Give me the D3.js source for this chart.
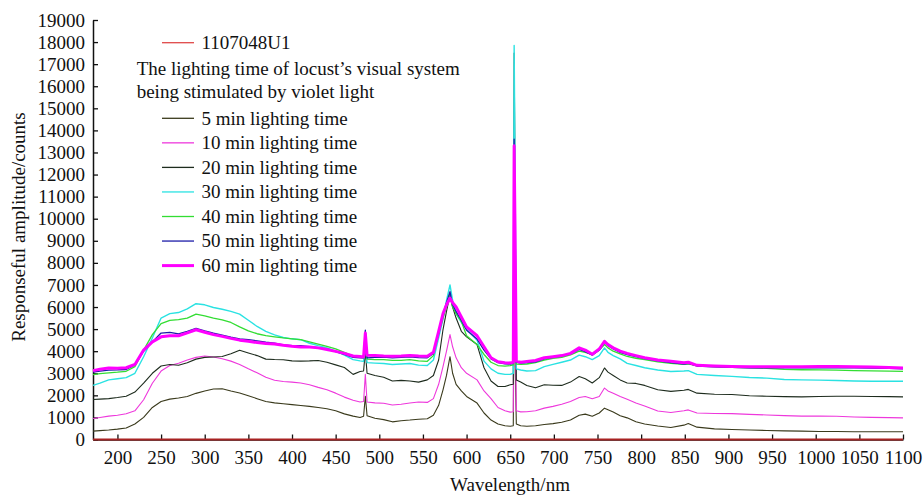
<!DOCTYPE html>
<html>
<head>
<meta charset="utf-8">
<script src="https://cdn.jsdelivr.net/npm/d3@7"></script>
<style>
  body { margin: 0; background: #fff; }
  svg { display: block; }
  text { font-family: "Liberation Serif", "Times New Roman", serif; fill: #111; }
</style>
</head>
<body>
<div id="chart"></div>
<script>
// wavelength grid (nm), shared by all spectra
var wavelength = [
  172,180,190,200,210,220,230,240,250,260,270,280,290,300,310,320,330,340,350,360,370,380,390,400,410,420,430,440,450,460,470,
  478,482,484,486,
  495,505,515,525,535,545,555,
  562,568,573,577,581,584,588,594,600,
  612,620,628,636,644,650,
  653.5,654.5,655.5,657,
  662,669,
  679,689,699,709,719,729,
  736,744,752,758,762,768,776,784,794,804,
  819,834,849,854,864,884,
  904,924,944,964,984,1004,1024,1044,1064,1084,1100
];

var min5 = [
  380,400,430,470,520,700,1000,1450,1720,1830,1880,1950,2090,2200,2290,2300,2200,2110,1980,1850,1720,1660,1620,1580,1540,1500,1450,1390,1300,1160,1060,
  1000,1050,1960,1080,
  960,900,800,850,880,920,940,
  1100,1550,2250,2900,3750,3000,2500,2200,1950,
  1650,1200,880,700,620,600,
  620,6800,4000,700,
  620,600,
  620,680,720,780,880,1100,
  1150,1050,1200,1420,1350,1250,1080,980,800,700,
  610,540,650,720,560,480,
  450,430,410,390,380,360,360,350,350,350,350
];
var min10 = [
  950,1000,1060,1100,1170,1300,1800,2550,3100,3350,3450,3600,3720,3780,3740,3660,3550,3400,3200,3020,2820,2680,2630,2600,2560,2480,2360,2250,2100,1920,1780,
  1700,1720,2950,1700,
  1660,1640,1560,1600,1650,1700,1680,
  1850,2500,3300,4000,4750,4200,3700,3250,3000,
  2700,2200,1850,1450,1300,1240,
  1260,11000,7000,1300,
  1250,1260,
  1300,1420,1500,1600,1720,1900,
  1950,1850,1950,2330,2200,2100,1950,1820,1650,1520,
  1290,1220,1300,1340,1200,1180,
  1170,1140,1110,1080,1060,1060,1050,1020,1000,990,980
];
var min20 = [
  1810,1830,1850,1900,1960,2150,2550,3000,3330,3400,3360,3480,3640,3720,3740,3760,3880,4040,3920,3800,3640,3620,3610,3560,3550,3560,3580,3500,3380,3260,2950,
  3080,3100,4000,3000,
  2900,2820,2650,2680,2650,2600,2700,
  2900,3600,4980,5800,6550,6000,5500,4900,4650,
  4300,3250,2650,2400,2400,2480,
  2500,17500,12000,2700,
  2600,2450,
  2340,2480,2460,2450,2600,2850,
  2750,2560,2800,3240,3050,2900,2700,2560,2540,2450,
  2250,2180,2230,2270,2100,2050,
  2040,1980,1960,1940,1930,1950,1960,1960,1950,1940,1930
];
var min30 = [
  2450,2550,2700,2750,2800,3000,3750,4600,5500,5700,5750,5920,6150,6100,5980,5900,5800,5680,5400,5120,4900,4740,4620,4560,4520,4360,4250,4150,4000,3820,3620,
  3560,3540,4300,3480,
  3460,3440,3400,3420,3440,3370,3350,
  3600,4600,5450,6300,7000,6300,5700,5300,5000,
  4500,3550,3200,3000,2950,2950,
  3000,17850,12500,3200,
  3150,3100,
  3120,3300,3400,3500,3600,3820,
  3750,3620,3800,4150,3950,3800,3650,3450,3350,3250,
  3150,3080,3100,3120,2950,2900,
  2860,2810,2780,2720,2700,2690,2670,2650,2640,2640,2640
];
var min40 = [
  2940,2980,3020,3050,3090,3300,4050,4750,5250,5400,5430,5500,5680,5600,5500,5420,5300,5100,4920,4790,4700,4650,4600,4560,4520,4420,4320,4220,4100,3950,3780,
  3720,3700,4400,3640,
  3620,3620,3580,3580,3620,3560,3540,
  3800,4800,5500,6000,6500,6000,5700,5350,4700,
  4300,3850,3500,3350,3320,3350,
  3380,12500,8000,3420,
  3400,3420,
  3480,3600,3680,3720,3830,4000,
  3950,3850,4050,4300,4150,4000,3880,3760,3680,3620,
  3520,3450,3400,3420,3330,3300,
  3270,3250,3220,3180,3160,3150,3140,3120,3110,3100,3090
];
var min50 = [
  3050,3100,3140,3150,3170,3380,4000,4420,4820,4850,4780,4900,5030,4920,4820,4730,4640,4560,4520,4470,4410,4360,4280,4250,4250,4200,4160,4100,3980,3850,3720,
  3700,3700,4950,3700,
  3720,3730,3700,3720,3740,3710,3700,
  3900,4800,5650,6200,6700,6100,5800,5400,4950,
  4550,4050,3650,3480,3430,3420,
  3450,13600,9000,3500,
  3460,3480,
  3520,3650,3720,3780,3880,4080,
  3980,3820,4050,4400,4250,4100,3950,3840,3750,3660,
  3560,3480,3420,3450,3330,3290,
  3270,3250,3250,3240,3250,3260,3250,3240,3230,3220,3200
];
var min60 = [
  3120,3180,3240,3230,3250,3400,4050,4420,4650,4700,4700,4830,4970,4860,4750,4670,4580,4500,4450,4390,4350,4330,4270,4220,4190,4190,4150,4080,3990,3900,3780,
  3760,3740,4820,3820,
  3800,3780,3770,3780,3800,3780,3770,
  3950,4900,5700,6100,6400,6200,6000,5550,5100,
  4700,4200,3700,3520,3480,3470,
  3500,13300,9500,3550,
  3500,3530,
  3580,3700,3750,3800,3900,4150,
  4050,3860,4100,4450,4300,4150,4000,3900,3800,3700,
  3600,3540,3480,3500,3360,3330,
  3310,3300,3290,3290,3300,3310,3310,3300,3280,3260,3240
];

// reference trace 1107048U1 (flat at zero)
var refWavelength = [172, 1100];
var ref1107048U1 = [0, 0];

var xTicks = [200,250,300,350,400,450,500,550,600,650,700,750,800,850,900,950,1000,1050,1100];
var yTicks = [0,1000,2000,3000,4000,5000,6000,7000,8000,9000,10000,11000,12000,13000,14000,15000,16000,17000,18000,19000];

var svgWidth = 924;
var svgHeight = 495;

var plot = { left: 93, right: 903, top: 20, bottom: 439.5 };

var svg = d3.select("#chart")
    .append("svg")
    .attr("width", svgWidth)
    .attr("height", svgHeight);

var x = d3.scaleLinear().domain([172, 1100]).range([plot.left, plot.right]);
var y = d3.scaleLinear().domain([0, 19000]).range([plot.bottom, plot.top]);

var series = [
    { name: "5 min lighting time",  values: min5,  color: "#3a3a1c", width: 1.1 },
    { name: "10 min lighting time", values: min10, color: "#ee38dc", width: 1.1 },
    { name: "20 min lighting time", values: min20, color: "#1e2c1e", width: 1.1 },
    { name: "30 min lighting time", values: min30, color: "#2ae2e2", width: 1.4 },
    { name: "40 min lighting time", values: min40, color: "#33dd33", width: 1.3 },
    { name: "50 min lighting time", values: min50, color: "#1c1ca8", width: 1.3 },
    { name: "60 min lighting time", values: min60, color: "#ff00ff", width: 3 }
];

var line = d3.line()
    .x(d => x(d[0]))
    .y(d => y(d[1]));

// axes
var xAxis = svg.append("g")
    .attr("transform", `translate(0, ${plot.bottom})`)
    .call(d3.axisBottom(x).tickValues(xTicks).tickFormat(d3.format("d"))
        .tickSizeInner(-5).tickSizeOuter(0).tickPadding(11));
var yAxis = svg.append("g")
    .attr("transform", `translate(${plot.left}, 0)`)
    .call(d3.axisLeft(y).tickValues(yTicks).tickFormat(d3.format("d"))
        .tickSizeInner(-5).tickSizeOuter(0).tickPadding(8));

[xAxis, yAxis].forEach(function(a) {
    a.attr("font-family", "Liberation Serif, Times New Roman, serif").attr("font-size", 19);
    a.selectAll("text").attr("fill", "#111");
    a.selectAll("line").attr("stroke", "#111").attr("stroke-width", 1.3);
    a.select(".domain").attr("stroke", "#111").attr("stroke-width", 1.5);
});

// spectra
series.forEach(function(s) {
    svg.append("path")
        .datum(wavelength.map((w, i) => [w, s.values[i]]))
        .attr("fill", "none")
        .attr("stroke", s.color)
        .attr("stroke-width", s.width)
        .attr("stroke-linejoin", "round")
        .attr("d", line);
});

// reference trace on the baseline
svg.append("path")
    .datum(refWavelength.map((w, i) => [w, ref1107048U1[i]]))
    .attr("fill", "none")
    .attr("stroke", "#a82222")
    .attr("stroke-width", 2.2)
    .attr("d", line);

// legend
var legend = svg.append("g").style("font-size", "19px");
var lx0 = 162, lx1 = 194, tx = 201.5;

legend.append("line")
    .attr("x1", lx0).attr("x2", lx1).attr("y1", 42.7).attr("y2", 42.7)
    .attr("stroke", "#e04848").attr("stroke-width", 1.3);
legend.append("text").attr("x", tx).attr("y", 42.7 + 6.3).text("1107048U1");

legend.append("text").attr("x", 136.7).attr("y", 68.3 + 6.3)
    .text("The lighting time of locust\u2019s visual system");
legend.append("text").attr("x", 136.7).attr("y", 91.7 + 6.3)
    .text("being stimulated by violet light");

series.forEach(function(s, i) {
    var cy = 118.3 + i * 24.55;
    legend.append("line")
        .attr("x1", lx0).attr("x2", lx1).attr("y1", cy).attr("y2", cy)
        .attr("stroke", s.color)
        .attr("stroke-width", s.width > 2 ? 3 : 1.3);
    legend.append("text").attr("x", tx).attr("y", cy + 6.3).text(s.name);
});

// axis titles
svg.append("text")
    .attr("x", 510).attr("y", 491)
    .attr("text-anchor", "middle")
    .style("font-size", "19px")
    .text("Wavelength/nm");

svg.append("text")
    .attr("transform", "translate(25, 227) rotate(-90)")
    .attr("text-anchor", "middle")
    .style("font-size", "19px")
    .text("Responseful amplitude/counts");
</script>
</body>
</html>
